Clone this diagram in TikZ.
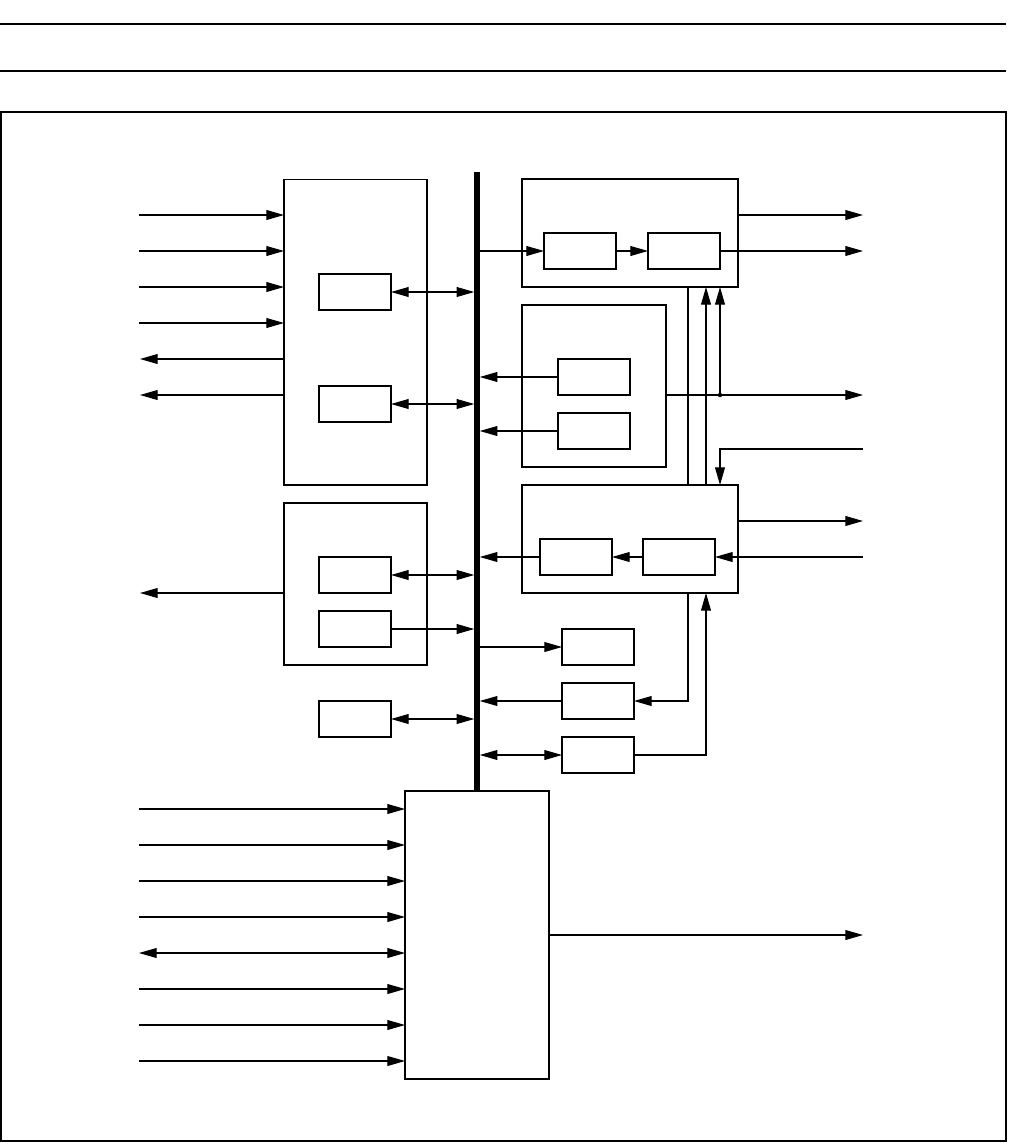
\documentclass[tikz,border=0pt]{standalone}
\usepackage{tikz}
\usetikzlibrary{arrows.meta}

\begin{document}
\begin{tikzpicture}[
  x=0.02cm, y=-0.02cm,
  blk/.style 2 args={draw, line width=0.6pt, inner sep=0pt, outer sep=0pt, minimum width=#1cm, minimum height=#2cm},
  hblk/.style 2 args={blk={#1}{#2}, line width=0.8pt},
  unit/.style={draw, line width=0.6pt, inner sep=0pt, outer sep=0pt, minimum width=1.44cm, minimum height=0.72cm},
  arr/.style={-{Triangle[length=10pt,width=5.6pt]}, line width=0.6pt},
  dbl/.style={{Triangle[length=10pt,width=5.6pt]}-{Triangle[length=10pt,width=5.6pt]}, line width=0.6pt}
]
\useasboundingbox (0,0) rectangle (1009,1143);

% page frame
\draw[line width=0.6pt] (0,24) -- (1006,24);
\draw[line width=1.1pt] (0,71) -- (1006,71);
\draw[line width=0.9pt] (1,112) rectangle (1006,1141);

% bus
\node[fill=black, inner sep=0pt, outer sep=0pt, minimum width=0.11cm, minimum height=12.38cm] (bus) at (477,481.5) {};

% left blocks
\node[blk={2.86}{6.12}] (A) at (355.5,332) {};
\node[unit] (a1) at (355,292) {};
\node[unit] (a2) at (355,404) {};
\node[blk={2.86}{3.24}] (F) at (355.5,584) {};
\node[unit] (f1) at (355,575) {};
\node[unit] (f2) at (355,629) {};
\node[unit] (g) at (355,719) {};
\node[hblk={2.88}{5.76}] (H) at (477,935) {};

% right blocks
\node[hblk={4.32}{2.16}] (B) at (630,233) {};
\node[unit] (b1) at (580,251) {};
\node[unit] (b2) at (684,251) {};
\node[hblk={2.88}{3.24}] (C) at (594,386) {};
\node[unit] (c1) at (594,377) {};
\node[unit] (c2) at (594,431) {};
\node[hblk={4.32}{2.16}] (D) at (630,539) {};
\node[unit] (d1) at (576,557) {};
\node[unit] (d2) at (679,557) {};
\node[unit] (e1) at (598,647) {};
\node[unit] (e2) at (598,701) {};
\node[unit] (e3) at (598,755) {};

% pins of A
\foreach \y [count=\i] in {215,251,287,323} {
  \coordinate (ain\i) at (139,\y);
  \draw[arr] (ain\i) -- (ain\i -| A.west);
}
\foreach \y [count=\i] in {359,395} {
  \coordinate (aout\i) at (140,\y);
  \draw[arr] (aout\i -| A.west) -- (aout\i);
}
\coordinate (fout) at (140,593);
\draw[arr] (fout -| F.west) -- (fout);

% pins of H
\foreach \y [count=\i] in {809,845,881,917,989,1025,1061} {
  \coordinate (hin\i) at (139,\y);
  \draw[arr] (hin\i) -- (hin\i -| H.west);
}
\coordinate (hio) at (139,953);
\draw[dbl] (hio) -- (hio -| H.west);
\coordinate (hout) at (863,935);
\draw[arr] (H.east) -- (hout);

% bus links, left side
\draw[dbl] (a1.east) -- (a1.east -| bus.west);
\draw[dbl] (a2.east) -- (a2.east -| bus.west);
\draw[dbl] (f1.east) -- (f1.east -| bus.west);
\draw[arr] (f2.east) -- (f2.east -| bus.west);
\draw[dbl] (g.east) -- (g.east -| bus.west);

% bus links, right side
\draw[arr] (bus.east |- b1) -- (b1.west);
\draw[arr] (b1) -- (b2);
\draw[arr] (c1.west) -- (c1.west -| bus.east);
\draw[arr] (c2.west) -- (c2.west -| bus.east);
\draw[arr] (d2) -- (d1);
\draw[arr] (d1.west) -- (d1.west -| bus.east);
\draw[arr] (bus.east |- e1) -- (e1.west);
\draw[arr] (e2.west) -- (e2.west -| bus.east);
\draw[dbl] (bus.east |- e3) -- (e3.west);

% outputs on the right
\coordinate (bout1) at (863,215);
\coordinate (bout2) at (863,251);
\coordinate (cout) at (863,395);
\coordinate (din1) at (863,449);
\coordinate (dout) at (863,521);
\coordinate (din2) at (863,557);
\draw[arr] (bout1 -| B.east) -- (bout1);
\draw[arr] (b2.east) -- (bout2);
\draw[arr] (cout -| C.east) -- (cout);
\draw[arr] (dout -| D.east) -- (dout);
\draw[arr] (din2) -- (d2.east);

% cross links between B and D
\coordinate (tap) at (720,395);
\coordinate (t1) at (688,701);
\coordinate (t2) at (706,755);
\fill (tap) circle (2.2);
\draw[arr] (tap) -- (tap |- B.south);
\draw[arr] (din1) -| (tap |- D.north);
\draw[line width=0.6pt] (B.south -| t1) -- (D.north -| t1);
\draw[arr] (D.south -| t1) -- (t1) -- (e2.east);
\draw[arr] (D.north -| t2) -- (t2 |- B.south);
\draw[arr] (e3.east) -- (t2) -- (t2 |- D.south);

\end{tikzpicture}
\end{document}
